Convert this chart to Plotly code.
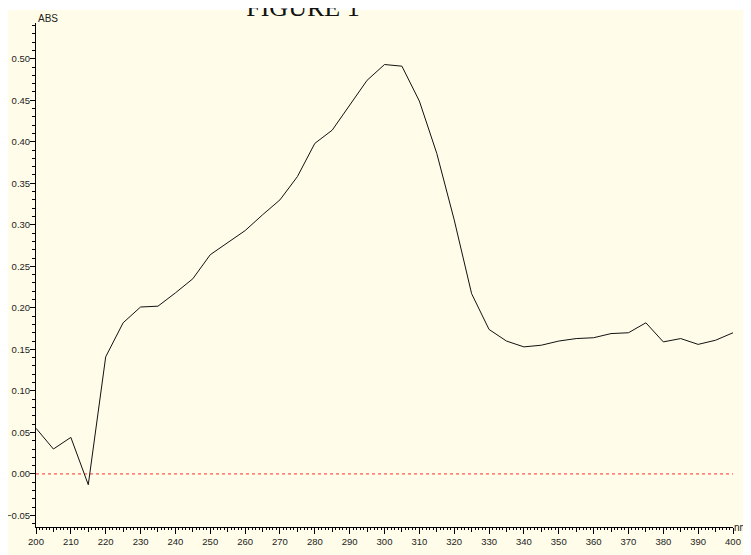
import plotly.graph_objects as go

wavelength = list(range(200, 405, 5))
absorbance = [0.055, 0.030, 0.044, -0.013, 0.141, 0.182, 0.201, 0.202, 0.218, 0.235,
              0.264, 0.278, 0.293, 0.312, 0.330, 0.358, 0.398, 0.414, 0.444, 0.474,
              0.493, 0.491, 0.449, 0.386, 0.306, 0.217, 0.174, 0.160, 0.153, 0.155,
              0.160, 0.163, 0.164, 0.169, 0.170, 0.182, 0.159, 0.163, 0.156, 0.161,
              0.170]
baseline_x = [200, 400]
baseline_y = [0, 0]
x_range = [200, 400]
y_range = [-0.0639, 0.543]
mid_ticks = list(range(205, 400, 10))

CREAM = "#FFFDE9"
FONT_FAMILY = "Liberation Sans Narrow, Arial Narrow, Liberation Sans, Arial"
TICKFONT = dict(family=FONT_FAMILY, size=9.5, color="#222")

fig = go.Figure()
fig.add_trace(go.Scatter(x=baseline_x, y=baseline_y, mode="lines",
                         line=dict(color="#FF3030", width=1, dash="dot"),
                         hoverinfo="skip", showlegend=False))
fig.add_trace(go.Scatter(x=wavelength, y=absorbance, mode="lines",
                         line=dict(color="#111", width=1), showlegend=False))
# invisible trace on overlay axis for medium ticks
fig.add_trace(go.Scatter(x=x_range, y=baseline_y, xaxis="x2", mode="lines",
                         line=dict(width=0), hoverinfo="skip", showlegend=False))

fig.update_layout(
    width=743, height=547,
    margin=dict(l=28, r=18, t=15, b=28, autoexpand=False),
    paper_bgcolor="white",
    plot_bgcolor=CREAM,
    title=dict(text="FIGURE 1", x=0.383, xanchor="center", xref="paper",
               y=0.985, yanchor="bottom", yref="container",
               font=dict(family="Liberation Serif, Times New Roman, serif", size=26, color="#111")),
    xaxis=dict(range=x_range, dtick=10, tick0=200, showgrid=False, zeroline=False,
               automargin=False,
               showline=True, linecolor="black", linewidth=1,
               ticks="outside", ticklen=6, tickcolor="black", tickwidth=1,
               minor=dict(dtick=1, tick0=200, ticklen=2, tickcolor="black", ticks="outside"),
               tickfont=TICKFONT),
    xaxis2=dict(range=x_range, overlaying="x", side="bottom", tickvals=mid_ticks,
                automargin=False,
                showticklabels=False, ticks="outside", ticklen=4, tickcolor="black",
                showgrid=False, zeroline=False, showline=False),
    yaxis=dict(range=y_range, dtick=0.05, tick0=0, tickformat=".2f", showgrid=False,
               automargin=False, ticklabelstandoff=-2,
               zeroline=False, showline=True, linecolor="black", linewidth=1,
               ticks="outside", ticklen=5, tickcolor="black", tickwidth=1,
               minor=dict(dtick=0.01, tick0=0, ticklen=3, tickcolor="black", ticks="outside"),
               tickfont=TICKFONT),
    shapes=[dict(type="rect", xref="paper", yref="paper", x0=-0.05, x1=1.05,
                 y0=-0.1, y1=1.0258, fillcolor=CREAM, line=dict(width=0), layer="below")],
    annotations=[
        dict(text="ABS", xref="paper", yref="paper", x=0.0, y=1.0, xanchor="left",
             yanchor="bottom", showarrow=False, yshift=-3,
             font=dict(family=FONT_FAMILY, size=10, color="#222")),
        dict(text="nm", xref="paper", yref="paper", x=1.0, y=0.0, xanchor="right",
             xshift=17, yanchor="middle", showarrow=False,
             font=dict(family=FONT_FAMILY, size=10, color="#222")),
    ],
)

fig.write_html("out.html")
